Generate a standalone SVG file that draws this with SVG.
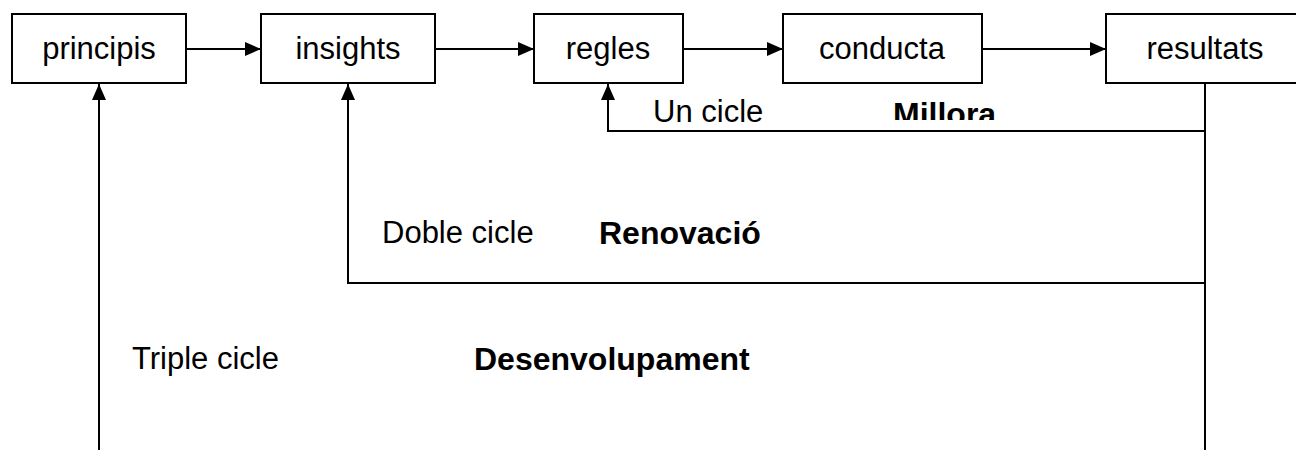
<svg xmlns="http://www.w3.org/2000/svg" width="1296" height="450" viewBox="0 0 1296 450">
  <defs>
    <marker id="arrow" viewBox="0 0 16 14" refX="16" refY="7" markerWidth="16" markerHeight="14" markerUnits="userSpaceOnUse" orient="auto">
      <path d="M0,0 L16,7 L0,14 Z" fill="#000"/>
    </marker>
    <clipPath id="clipMillora">
      <rect x="880" y="90" width="140" height="30"/>
    </clipPath>
  </defs>
  <style>
    .box { fill: #fff; stroke: #000; stroke-width: 2; }
    .lbl { font-family: "Liberation Sans", Arial, sans-serif; font-size: 31px; fill: #000; }
    .bold { font-weight: bold; font-size: 32px; }
    .mid { text-anchor: middle; }
    .conn { fill: none; stroke: #000; stroke-width: 2; }
  </style>
  <rect width="1296" height="450" fill="#fff"/>

  <g id="connectors">
    <line class="conn" x1="186" y1="49" x2="261" y2="49" marker-end="url(#arrow)"/>
    <line class="conn" x1="435" y1="49" x2="534" y2="49" marker-end="url(#arrow)"/>
    <line class="conn" x1="683" y1="49" x2="783" y2="49" marker-end="url(#arrow)"/>
    <line class="conn" x1="982" y1="49" x2="1106" y2="49" marker-end="url(#arrow)"/>
    <!-- feedback trunk from resultats -->
    <line class="conn" x1="1205" y1="83" x2="1205" y2="452"/>
    <!-- single loop -->
    <polyline class="conn" points="1205,131 608,131 608,84" marker-end="url(#arrow)"/>
    <!-- double loop -->
    <polyline class="conn" points="1205,283 348,283 348,84" marker-end="url(#arrow)"/>
    <!-- triple loop -->
    <line class="conn" x1="99" y1="452" x2="99" y2="84" marker-end="url(#arrow)"/>
  </g>

  <g id="principis">
    <rect class="box" x="12" y="14" width="174" height="69"/>
    <text class="lbl mid" x="99" y="59">principis</text>
  </g>
  <g id="insights">
    <rect class="box" x="261" y="14" width="174" height="69"/>
    <text class="lbl mid" x="348" y="59">insights</text>
  </g>
  <g id="regles">
    <rect class="box" x="534" y="14" width="149" height="69"/>
    <text class="lbl mid" x="608" y="59">regles</text>
  </g>
  <g id="conducta">
    <rect class="box" x="783" y="14" width="199" height="69"/>
    <text class="lbl mid" x="882" y="59">conducta</text>
  </g>
  <g id="resultats">
    <rect class="box" x="1106" y="14" width="199" height="69"/>
    <text class="lbl mid" x="1205" y="59">resultats</text>
  </g>

  <g id="labels">
    <text class="lbl" x="653" y="122">Un cicle</text>
    <text class="lbl bold" x="893" y="125" clip-path="url(#clipMillora)">Millora</text>
    <text class="lbl" x="382" y="243">Doble cicle</text>
    <text class="lbl bold" x="599" y="244">Renovació</text>
    <text class="lbl" x="132" y="369">Triple cicle</text>
    <text class="lbl bold" x="474" y="370">Desenvolupament</text>
  </g>
</svg>
